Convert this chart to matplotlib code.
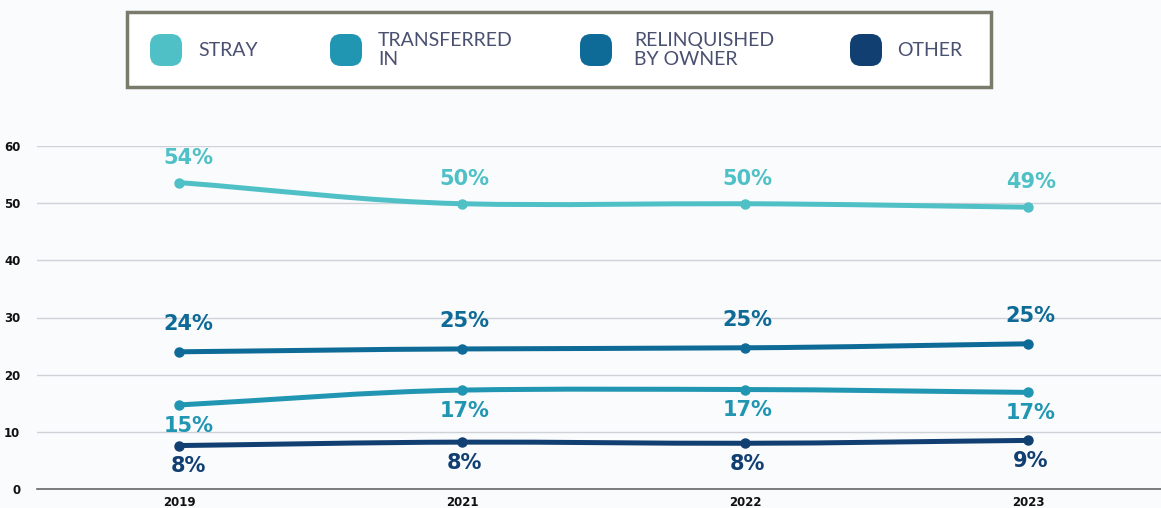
import matplotlib
matplotlib.use("Agg")
import matplotlib.pyplot as plt
from matplotlib.path import Path
from matplotlib.patches import PathPatch, FancyBboxPatch, Rectangle
import numpy as np

years = ["2019", "2021", "2022", "2023"]
series_names = ["STRAY", "TRANSFERRED\nIN", "RELINQUISHED\nBY OWNER", "OTHER"]
stray = [53.6, 49.9, 49.9, 49.3]
transferred = [14.7, 17.3, 17.4, 16.9]
relinquished = [24.0, 24.5, 24.7, 25.4]
other = [7.6, 8.2, 8.0, 8.5]
stray_labels = ["54%", "50%", "50%", "49%"]
transferred_labels = ["15%", "17%", "17%", "17%"]
relinquished_labels = ["24%", "25%", "25%", "25%"]
other_labels = ["8%", "8%", "8%", "9%"]
yticks = [0, 10, 20, 30, 40, 50, 60]

colors = ["#4FC1C6", "#2196B2", "#0E6A96", "#123F72"]
BG = "#F9FBFD"

fig = plt.figure(figsize=(11.61, 5.08), dpi=100, facecolor=BG)
W, H = 1161, 508
ax = fig.add_axes([37 / W, (H - 489) / H, 1 - 37 / W, (489 - 146) / H])
ax.set_facecolor(BG)
x = np.arange(len(years))
ax.set_xlim(-0.502, 3.47)
ax.set_ylim(0, 60)


def smooth_path(xs, ys, tension=0.6):
    xs = np.asarray(xs, float)
    ys = np.asarray(ys, float)
    n = len(xs)
    d = np.diff(ys) / np.diff(xs)
    m = np.zeros(n)
    m[0] = d[0]
    m[-1] = d[-1]
    for i in range(1, n - 1):
        m[i] = tension * (ys[i + 1] - ys[i - 1]) / (xs[i + 1] - xs[i - 1])
    verts = [(xs[0], ys[0])]
    codes = [Path.MOVETO]
    for i in range(n - 1):
        h = xs[i + 1] - xs[i]
        verts += [(xs[i] + h / 3, ys[i] + m[i] * h / 3),
                  (xs[i + 1] - h / 3, ys[i + 1] - m[i + 1] * h / 3),
                  (xs[i + 1], ys[i + 1])]
        codes += [Path.CURVE4] * 3
    return Path(verts, codes)


data = [stray, transferred, relinquished, other]
labels = [stray_labels, transferred_labels, relinquished_labels, other_labels]
offsets = [18, -15, 20, -15]  # points
x_shift = [7, 2, 2, 2]  # points, label nudges per year

for vals, labs, c, off in zip(data, labels, colors, offsets):
    p = PathPatch(smooth_path(x, vals), facecolor="none", edgecolor=c,
                  lw=3.6, capstyle="round", zorder=3)
    ax.add_patch(p)
    ax.plot(x, vals, "o", color=c, ms=6.5, zorder=4, clip_on=False)
    for xi, v, lab, dx in zip(x, vals, labs, x_shift):
        ax.annotate(lab, (xi, v), xytext=(dx, off), textcoords="offset points",
                    ha="center", va="center", color=c, fontsize=15,
                    fontweight="bold", family="DejaVu Sans", zorder=5)

ax.set_yticks(yticks)
ax.set_xticks(x)
ax.set_xticklabels(years)
ax.grid(axis="y", color="#CFD2D6", lw=1)
ax.set_axisbelow(True)
for s in ["top", "right", "left"]:
    ax.spines[s].set_visible(False)
ax.spines["bottom"].set_color("#666666")
ax.spines["bottom"].set_linewidth(1.2)
ax.tick_params(axis="both", length=0, labelsize=8.5, labelcolor="#111111")
ax.tick_params(axis="y", pad=12)
ax.tick_params(axis="x", pad=5)
for t in ax.get_xticklabels() + ax.get_yticklabels():
    t.set_fontweight("bold")
    t.set_family("DejaVu Sans")

# Legend overlay in pixel coordinates
lax = fig.add_axes([0, 0, 1, 1], facecolor="none")
lax.set_xlim(0, W)
lax.set_ylim(H, 0)
lax.axis("off")
lax.add_patch(Rectangle((127, 12), 991 - 127, 87 - 12, facecolor="white",
                        edgecolor="#7B7B6B", lw=2.5, zorder=1))
marker_x = [150, 330, 580, 850]
text_x = [198, 378, 634, 897]
for mx, tx, c, name in zip(marker_x, text_x, colors, series_names):
    lax.add_patch(FancyBboxPatch((mx, 34), 32, 32,
                                 boxstyle="round,pad=0,rounding_size=11",
                                 facecolor=c, edgecolor="none", zorder=2))
    lax.text(tx, 50, name, ha="left", va="center", fontsize=14,
             color="#4A5070", family="Lato", linespacing=1.2)

fig.savefig("out.png", dpi=100, facecolor=BG)
